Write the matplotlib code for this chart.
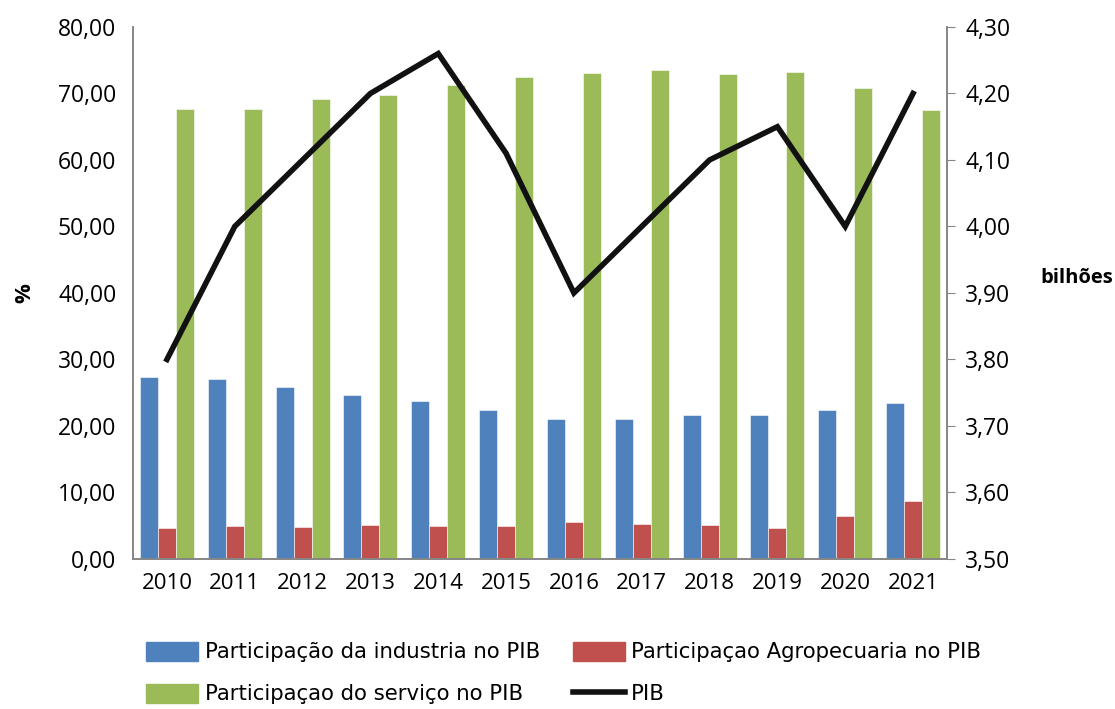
import matplotlib
matplotlib.use("Agg")
import matplotlib.pyplot as plt
import numpy as np
from matplotlib.lines import Line2D
from matplotlib.patches import Patch

years = ["2010", "2011", "2012", "2013", "2014", "2015", "2016", "2017", "2018", "2019", "2020", "2021"]
industria = [27.3, 27.0, 25.9, 24.7, 23.7, 22.4, 21.1, 21.0, 21.7, 21.7, 22.4, 23.5]
agro = [4.7, 5.0, 4.8, 5.1, 4.9, 4.9, 5.5, 5.2, 5.1, 4.7, 6.5, 8.7]
servico = [67.7, 67.7, 69.1, 69.8, 71.2, 72.4, 73.1, 73.5, 72.9, 73.2, 70.8, 67.5]
pib = [3.80, 4.00, 4.10, 4.20, 4.26, 4.11, 3.90, 4.00, 4.10, 4.15, 4.00, 4.20]

left_ticks = [0, 10, 20, 30, 40, 50, 60, 70, 80]
right_ticks = [3.5, 3.6, 3.7, 3.8, 3.9, 4.0, 4.1, 4.2, 4.3]

c_blue = "#4F81BD"
c_red = "#C0504D"
c_green = "#9BBB59"
grey = "#868686"

plt.rcParams['font.family'] = ['Open Sans', 'DejaVu Sans']

fig = plt.figure(figsize=(11.15, 7.09), dpi=100)
ax = fig.add_axes([0.1193, 0.2116, 0.7300, 0.7504])
ax2 = ax.twinx()

x = np.arange(len(years))
w = 0.266
ax.bar(x - w, industria, w, color=c_blue, edgecolor="white", linewidth=0.4)
ax.bar(x, agro, w, color=c_red, edgecolor="white", linewidth=0.4)
ax.bar(x + w, servico, w, color=c_green, edgecolor="white", linewidth=0.4)
ax2.plot(x, pib, color="#111111", linewidth=4, solid_joinstyle="miter")

ax.set_xlim(-0.5, len(years) - 0.5)
ax.set_ylim(0, 80)
ax2.set_ylim(3.5, 4.3)
ax.set_yticks(left_ticks)
ax.set_yticklabels([f"{v:.2f}".replace(".", ",") for v in left_ticks])
ax2.set_yticks(right_ticks)
ax2.set_yticklabels([f"{v:.2f}".replace(".", ",") for v in right_ticks])
ax.set_xticks(x)
ax.set_xticklabels(years)

for a in (ax, ax2):
    a.spines['top'].set_visible(False)
    for s in ('left', 'right', 'bottom'):
        a.spines[s].set_color(grey)
        a.spines[s].set_linewidth(1.2)
ax.tick_params(axis='y', labelsize=16.5, length=0, pad=12)
ax2.tick_params(axis='y', labelsize=16.5, length=6, color=grey, pad=7)
ax.tick_params(axis='x', labelsize=16, length=0, pad=10)

ax.set_ylabel("%", fontsize=16, fontweight="bold", labelpad=16)
fig.text(0.933, 0.608, "bilhões", fontsize=14.5, fontweight="bold", ha="left", va="center")

handles = [
    Patch(color=c_blue, label="Participação da industria no PIB"),
    Patch(color=c_green, label="Participaçao do serviço no PIB"),
    Patch(color=c_red, label="Participaçao Agropecuaria no PIB"),
    Line2D([0], [0], color="#111111", linewidth=4, label="PIB"),
]
fig.legend(handles=handles, ncol=2, loc="upper left", bbox_to_anchor=(0.114, 0.122),
           frameon=False, handlelength=2.45, handleheight=1.0,
           handletextpad=0.3, columnspacing=1.55, labelspacing=1.0,
           prop={'family': ['DejaVu Sans'], 'size': 15.3})

fig.savefig("out.png", dpi=100)
